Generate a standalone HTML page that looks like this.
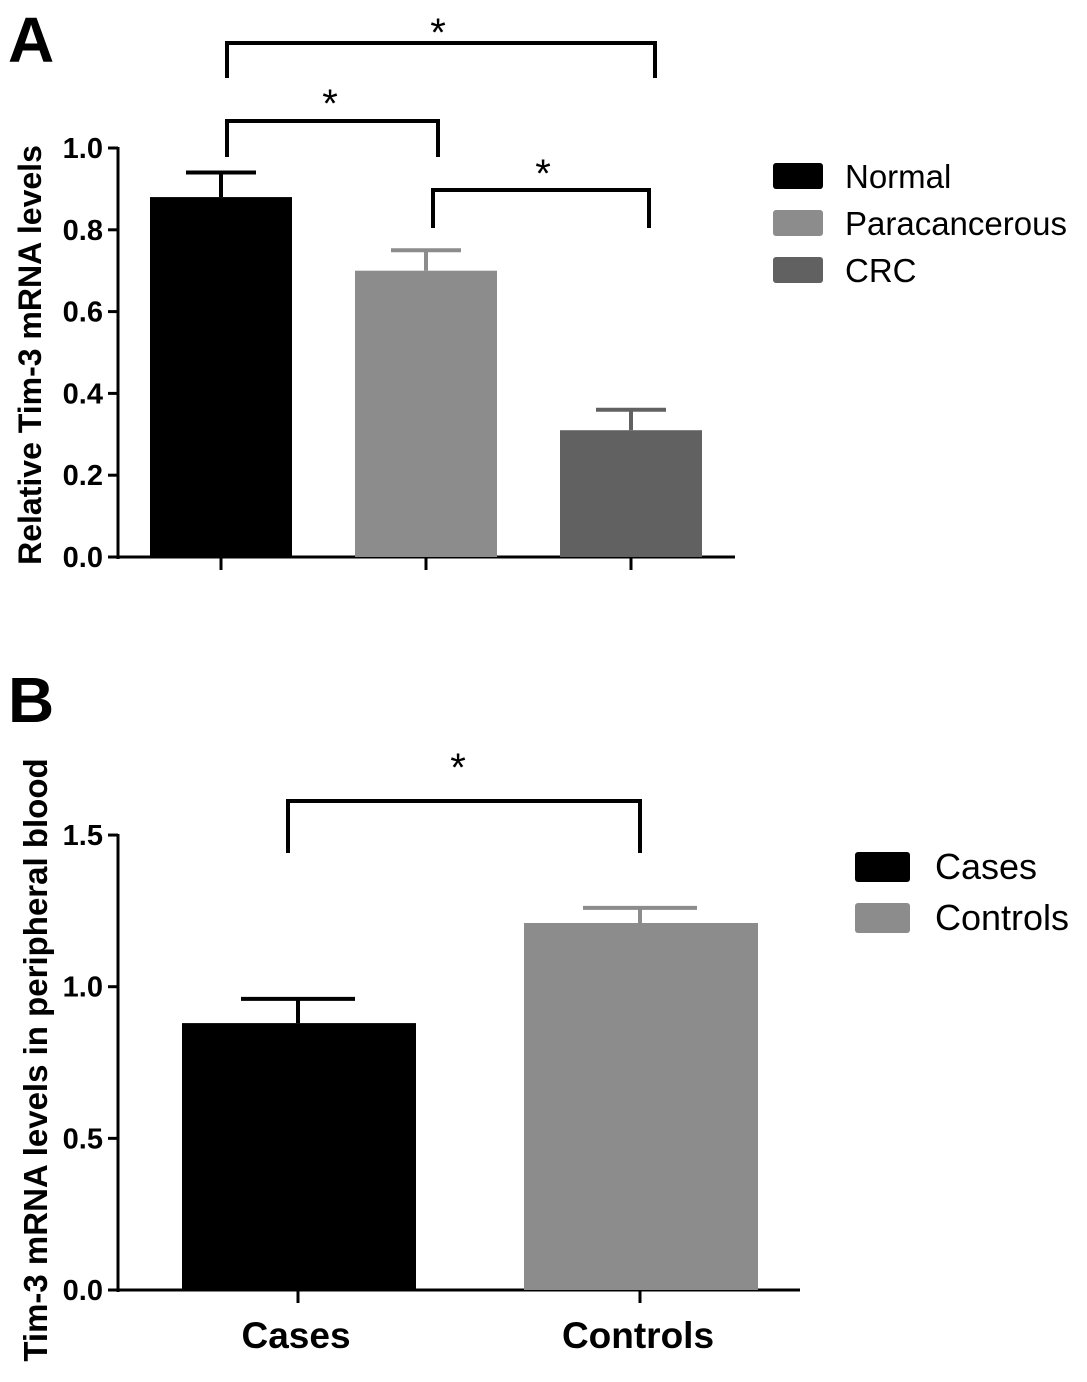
<!DOCTYPE html>
<html><head><meta charset="utf-8">
<style>
html,body{margin:0;padding:0;background:#fff;}
svg{display:block;font-family:"Liberation Sans",Arial,sans-serif;}
</style></head>
<body>
<svg id="fig" width="1087" height="1382" viewBox="0 0 1087 1382">
<text x="8" y="62" font-size="64" font-weight="bold">A</text>
<text x="8" y="722" font-size="64" font-weight="bold">B</text>
<g id="chartA"></g>
<g id="chartB"></g>
</svg>
<script>
const catsA = ["Normal","Paracancerous","CRC"];
const valsA = [0.88, 0.70, 0.31];
const errA = [0.06, 0.05, 0.05];
const colorsA = ["#000000","#8c8c8c","#616161"];
const ticksA = [0.0,0.2,0.4,0.6,0.8,1.0];
const tickLabelsA = ["0.0","0.2","0.4","0.6","0.8","1.0"];

const catsB = ["Cases","Controls"];
const valsB = [0.88, 1.21];
const errB = [0.08, 0.05];
const colorsB = ["#000000","#8c8c8c"];
const ticksB = [0.0,0.5,1.0,1.5];
const tickLabelsB = ["0.0","0.5","1.0","1.5"];

const NS="http://www.w3.org/2000/svg";
function mk(parent,tag,attrs,text){const e=document.createElementNS(NS,tag);for(const k in attrs)e.setAttribute(k,attrs[k]);if(text!==undefined)e.textContent=text;parent.appendChild(e);return e;}

// Panel A
(function(){
const g=document.getElementById('chartA');
const yA=v=>557-v*409;
const xCenter=i=>221+i*205;
const bw=142;
mk(g,'line',{x1:118,y1:147,x2:118,y2:559,stroke:'#000','stroke-width':3});
mk(g,'line',{x1:116,y1:557,x2:735,y2:557,stroke:'#000','stroke-width':3});
ticksA.forEach((t,i)=>{
  mk(g,'line',{x1:108,y1:yA(t),x2:118,y2:yA(t),stroke:'#000','stroke-width':3});
  const l=mk(g,'text',{x:103,y:yA(t)+10,'font-size':29,'font-weight':'bold','text-anchor':'end'},tickLabelsA[i]);
  
  
});
catsA.forEach((c,i)=>{
  const cx=xCenter(i);
  mk(g,'line',{x1:cx,y1:557,x2:cx,y2:570,stroke:'#000','stroke-width':3});
  const b=mk(g,'rect',{x:cx-bw/2,y:yA(valsA[i]),width:bw,height:yA(0)-yA(valsA[i]),fill:colorsA[i]});
  
  
  const top=yA(valsA[i]+errA[i]);
  mk(g,'line',{x1:cx,y1:yA(valsA[i]),x2:cx,y2:top,stroke:colorsA[i],'stroke-width':4});
  mk(g,'line',{x1:cx-35,y1:top,x2:cx+35,y2:top,stroke:colorsA[i],'stroke-width':4});
  const ly=163+i*47;
  const sw=mk(g,'rect',{x:773,y:ly,width:50,height:26,rx:3,fill:colorsA[i]});
  
  
  const lt=mk(g,'text',{x:845,y:ly+25,'font-size':33},c);
  
  
});
const yt=mk(g,'text',{transform:'translate(41,355) rotate(-90)','font-size':32,'font-weight':'bold','text-anchor':'middle'},'Relative Tim-3 mRNA levels');


const br=[[227,655,43,78,438,22],[227,438,121,157,330,93],[433,649,190,228,543,163]];
br.forEach(b=>{
  mk(g,'path',{d:`M${b[0]},${b[3]} V${b[2]} H${b[1]} V${b[3]}`,fill:'none',stroke:'#000','stroke-width':4});
  const s=mk(g,'text',{x:b[4],y:b[5]+24,'font-size':40,'text-anchor':'middle'},'*');
  
  
});
})();

// Panel B
(function(){
const g=document.getElementById('chartB');
const yB=v=>1290-v*303.3;
const xCenter=i=>298+i*342;
const bw=234;
mk(g,'line',{x1:118,y1:834,x2:118,y2:1292,stroke:'#000','stroke-width':3});
mk(g,'line',{x1:116,y1:1290,x2:800,y2:1290,stroke:'#000','stroke-width':3});
ticksB.forEach((t,i)=>{
  mk(g,'line',{x1:108,y1:yB(t),x2:118,y2:yB(t),stroke:'#000','stroke-width':3});
  const l=mk(g,'text',{x:103,y:yB(t)+10,'font-size':29,'font-weight':'bold','text-anchor':'end'},tickLabelsB[i]);
  
  
});
catsB.forEach((c,i)=>{
  const cx=xCenter(i);
  mk(g,'line',{x1:cx,y1:1290,x2:cx,y2:1303,stroke:'#000','stroke-width':3});
  const b=mk(g,'rect',{x:cx-bw/2+1,y:yB(valsB[i]),width:bw,height:yB(0)-yB(valsB[i]),fill:colorsB[i]});
  
  
  const top=yB(valsB[i]+errB[i]);
  mk(g,'line',{x1:cx,y1:yB(valsB[i]),x2:cx,y2:top,stroke:colorsB[i],'stroke-width':4});
  mk(g,'line',{x1:cx-57,y1:top,x2:cx+57,y2:top,stroke:colorsB[i],'stroke-width':4});
  const xl=mk(g,'text',{x:cx-2,y:1348,'font-size':37,'font-weight':'bold','text-anchor':'middle'},c);
  
  
  const ly=852+i*51;
  const sw=mk(g,'rect',{x:855,y:ly,width:55,height:30,rx:3,fill:colorsB[i]});
  
  
  const lt=mk(g,'text',{x:935,y:ly+27,'font-size':36},c);
  
  
});
const yt=mk(g,'text',{transform:'translate(47,1060) rotate(-90)','font-size':33,'font-weight':'bold','text-anchor':'middle'},'Tim-3 mRNA levels in peripheral blood');


mk(g,'path',{d:'M288,853 V801 H640 V853',fill:'none',stroke:'#000','stroke-width':4});
const s=mk(g,'text',{x:458,y:781,'font-size':40,'text-anchor':'middle'},'*');


})();
</script>
</body></html>
